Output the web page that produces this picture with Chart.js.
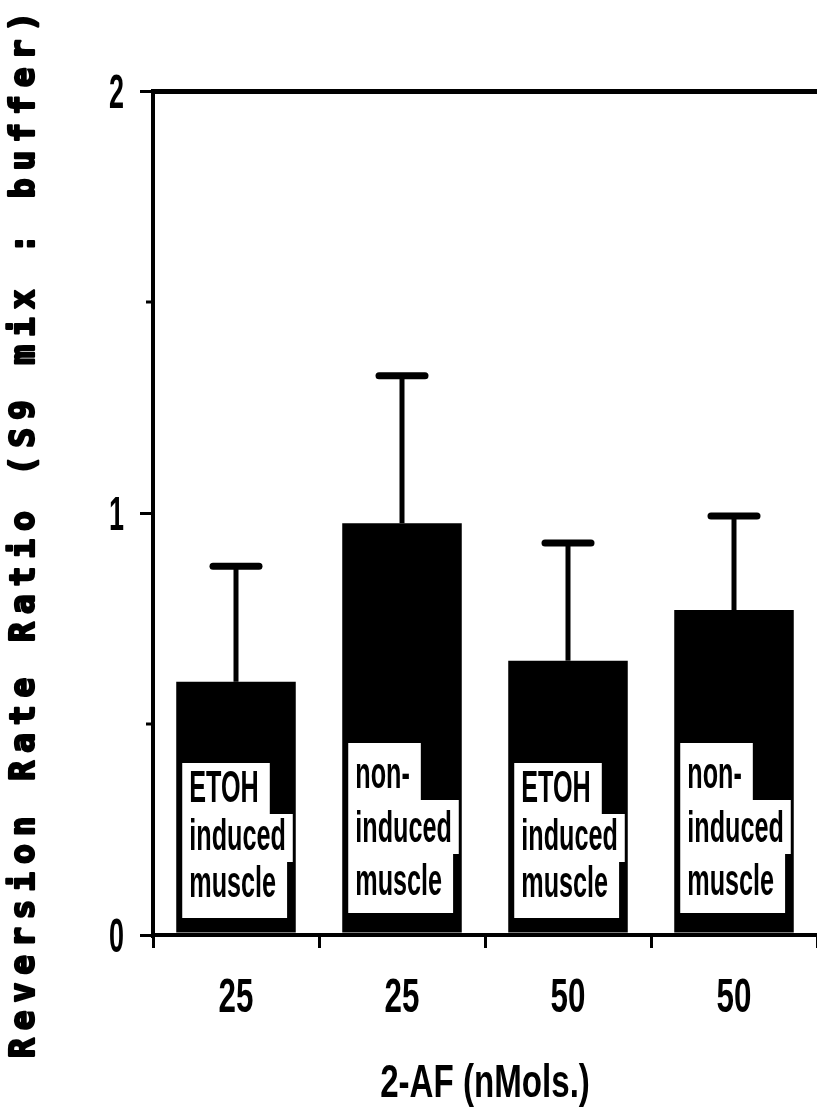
<!DOCTYPE html>
<html>
<head>
<meta charset="utf-8">
<script src="https://cdn.jsdelivr.net/npm/chart.js@4.4.0/dist/chart.umd.min.js"></script>
<style>
    html, body { margin: 0; padding: 0; background: #fff; }
    #wrap { width: 817px; height: 1114px; }
</style>
</head>
<body>
<div id="wrap"><canvas id="reversionChart" width="817" height="1114"></canvas></div>
<script>
// x categories (2-AF dose)
const doseLabels = ['25', '25', '50', '50'];
// mean reversion rate ratio per bar
const ratioValues = [0.60, 0.976, 0.65, 0.77];
// upper error bar length per bar
const errorValues = [0.274, 0.349, 0.279, 0.223];
// text printed inside each bar
const barTexts = [
    ['ETOH', 'induced', 'muscle'],
    ['non-', 'induced', 'muscle'],
    ['ETOH', 'induced', 'muscle'],
    ['non-', 'induced', 'muscle']
];
const yTickValues = [0, 0.5, 1, 1.5, 2];
const yTitle = 'Reversion Rate Ratio (S9 mix : buffer)';
const xTitle = '2-AF (nMols.)';

// the original uses a tall, condensed printer font; squeeze a normal one
function narrowText(ctx, txt, x, y, sx, align) {
    ctx.save();
    ctx.translate(x, y);
    ctx.scale(sx, 1);
    ctx.textAlign = align || 'left';
    ctx.fillText(txt, 0, 0);
    ctx.restore();
}

// white text boxes inside the bars
const barLabelPlugin = {
    id: 'barLabels',
    afterDatasetsDraw(chart) {
        const ctx = chart.ctx;
        const zeroY = chart.scales.y.getPixelForValue(0);
        const sx = 0.56;
        chart.getDatasetMeta(0).data.forEach((bar, i) => {
            const lines = barTexts[i];
            const tall = lines[0] === 'non-';
            const baselines = tall ? [-147, -93, -40] : [-133, -85, -38];
            const boxTop = tall ? -192 : -172;
            const boxBottom = tall ? -22 : -17;
            const left = bar.x - bar.width / 2 + 6;
            const maxRight = bar.x + bar.width / 2 - 3;
            ctx.save();
            ctx.font = 'bold 45px "Liberation Sans", sans-serif';
            ctx.textBaseline = 'alphabetic';
            lines.forEach((txt, j) => {
                const w = ctx.measureText(txt).width * sx;
                const top = j === 0 ? boxTop : baselines[j - 1] + 12;
                const bottom = j === lines.length - 1 ? boxBottom : baselines[j] + 12;
                const right = Math.min(left + w + 18, maxRight);
                ctx.fillStyle = '#fff';
                ctx.fillRect(left, zeroY + top, right - left, bottom - top);
            });
            ctx.fillStyle = '#000';
            lines.forEach((txt, j) => {
                narrowText(ctx, txt, left + 7, zeroY + baselines[j], sx);
            });
            ctx.restore();
        });
    }
};

// upper-only error bars with caps
const errorBarPlugin = {
    id: 'errorBars',
    afterDatasetsDraw(chart) {
        const ctx = chart.ctx;
        const yScale = chart.scales.y;
        chart.getDatasetMeta(0).data.forEach((bar, i) => {
            const top = yScale.getPixelForValue(ratioValues[i] + errorValues[i]);
            ctx.save();
            ctx.strokeStyle = '#000';
            ctx.lineWidth = 5;
            ctx.beginPath();
            ctx.moveTo(bar.x, bar.y);
            ctx.lineTo(bar.x, top);
            ctx.stroke();
            ctx.lineWidth = 7;
            ctx.lineCap = 'round';
            ctx.beginPath();
            ctx.moveTo(bar.x - 23, top);
            ctx.lineTo(bar.x + 23, top);
            ctx.stroke();
            ctx.restore();
        });
    }
};

// tick labels, titles and short minor ticks
const axisTextPlugin = {
    id: 'axisText',
    afterDraw(chart) {
        const ctx = chart.ctx;
        const xScale = chart.scales.x;
        const yScale = chart.scales.y;
        const x0 = chart.chartArea.left;
        const zeroY = yScale.getPixelForValue(0);
        ctx.save();
        ctx.strokeStyle = '#000';
        ctx.fillStyle = '#000';
        ctx.lineWidth = 3;
        yTickValues.filter(v => v % 1 !== 0).forEach(v => {
            const py = yScale.getPixelForValue(v);
            ctx.beginPath();
            ctx.moveTo(x0 - 7, py);
            ctx.lineTo(x0, py);
            ctx.stroke();
        });

        ctx.font = 'bold 49px "Liberation Sans", sans-serif';
        ctx.textBaseline = 'alphabetic';
        yScale.ticks.forEach(t => {
            if (t.value % 1 !== 0) return;
            const py = yScale.getPixelForValue(t.value);
            narrowText(ctx, String(t.value), x0 - 29, py + 17, 0.55, 'right');
        });
        doseLabels.forEach((lab, i) => {
            narrowText(ctx, lab, xScale.getPixelForTick(i), zeroY + 77, 0.64, 'center');
        });

        ctx.font = 'bold 46px "Liberation Sans", sans-serif';
        narrowText(ctx, xTitle, (chart.chartArea.left + chart.chartArea.right) / 2, 1097, 0.72, 'center');

        // y title, one monospace cell per character
        ctx.translate(25, 1062);
        ctx.rotate(-Math.PI / 2);
        ctx.font = 'bold 33px "DejaVu Sans Mono", monospace';
        ctx.textAlign = 'center';
        ctx.textBaseline = 'middle';
        ctx.lineWidth = 2.2;
        ctx.lineJoin = 'round';
        const cell = 1054 / yTitle.length;
        for (let k = 0; k < yTitle.length; k++) {
            ctx.fillText(yTitle[k], cell * (k + 0.5), 0);
            ctx.strokeText(yTitle[k], cell * (k + 0.5), 0);
        }
        ctx.restore();
    }
};

const ctx = document.getElementById('reversionChart').getContext('2d');
const reversionChart = new Chart(ctx, {
    type: 'bar',
    data: {
        labels: doseLabels,
        datasets: [{
            data: ratioValues,
            backgroundColor: '#000',
            borderWidth: 0,
            barPercentage: 0.72,
            categoryPercentage: 1.0
        }]
    },
    options: {
        responsive: false,
        animation: false,
        devicePixelRatio: 1,
        layout: { padding: { top: 91, left: 0, right: 0, bottom: 0 } },
        plugins: {
            legend: { display: false },
            tooltip: { enabled: false }
        },
        scales: {
            x: {
                grid: {
                    drawOnChartArea: false,
                    offset: true,
                    tickLength: 13,
                    tickWidth: 3,
                    tickColor: '#000'
                },
                border: { color: '#000', width: 4 },
                ticks: { display: false },
                title: { display: false, text: xTitle },
                afterFit: scale => { scale.height = 179; }
            },
            y: {
                min: 0,
                max: 2,
                afterBuildTicks: scale => {
                    scale.ticks = yTickValues.map(v => ({ value: v }));
                },
                grid: {
                    color: c => (c.tick && c.tick.value === 2) ? '#000' : 'rgba(0,0,0,0)',
                    lineWidth: 5,
                    tickLength: 13,
                    tickWidth: 3,
                    tickColor: c => (c.tick && c.tick.value % 1 === 0) ? '#000' : 'rgba(0,0,0,0)'
                },
                border: { color: '#000', width: 4 },
                ticks: { display: false },
                title: { display: false, text: yTitle },
                afterFit: scale => { scale.width = 153; }
            }
        }
    },
    plugins: [barLabelPlugin, errorBarPlugin, axisTextPlugin]
});
</script>
</body>
</html>
